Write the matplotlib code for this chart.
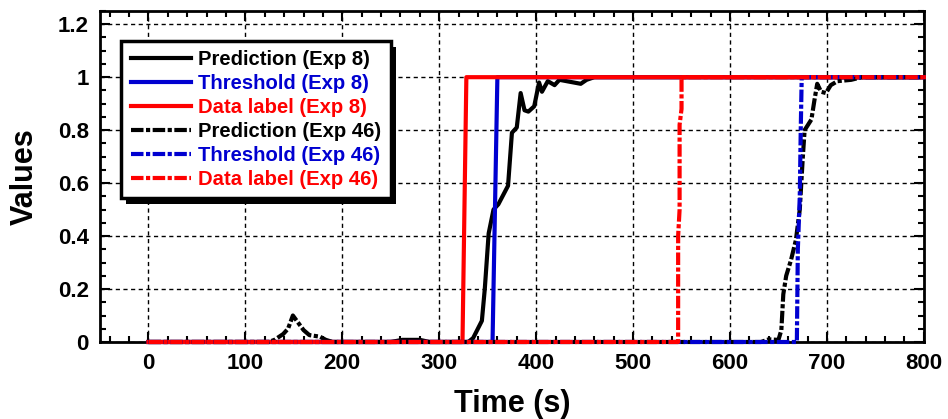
import matplotlib.pyplot as plt
from matplotlib.ticker import MultipleLocator
from matplotlib.patches import Rectangle

plt.rcParams['font.family'] = ['Liberation Sans', 'DejaVu Sans']
plt.rcParams['font.weight'] = 'bold'

# Exp 8
t_pred8 = [0, 250, 262, 280, 290, 330, 335, 344, 347, 351, 356, 361, 371, 375, 380,
           384, 388, 392, 398, 403, 406, 412, 419, 424, 446, 452, 460, 800]
v_pred8 = [0, 0, 0.008, 0.008, 0, 0, 0.015, 0.08, 0.2, 0.41, 0.5, 0.52, 0.59, 0.79, 0.81,
           0.94, 0.875, 0.87, 0.89, 0.98, 0.945, 0.985, 0.97, 0.99, 0.975, 0.99, 1, 1]
t_thr8 = [0, 355, 360, 800]
v_thr8 = [0, 0, 1, 1]
t_lab8 = [0, 324, 328, 800]
v_lab8 = [0, 0, 1, 1]

# Exp 46
t_pred46 = [0, 124, 130, 139, 144, 149, 153, 160, 166, 177, 183, 190, 632, 640, 650,
            653, 655, 658, 663, 668, 672, 675, 677, 684, 687, 690, 694, 699, 704,
            711, 725, 736, 800]
v_pred46 = [0, 0, 0.008, 0.03, 0.05, 0.1, 0.08, 0.045, 0.026, 0.02, 0.008, 0, 0, 0.01, 0.008,
            0.045, 0.18, 0.25, 0.31, 0.385, 0.5, 0.69, 0.8, 0.84, 0.91, 0.975, 0.945, 0.94, 0.97,
            0.985, 0.99, 1, 1]
t_thr46 = [0, 669, 670, 672, 673, 674, 800]
v_thr46 = [0, 0, 0.35, 0.55, 0.8, 1, 1]
t_lab46 = [0, 546.5, 546.5, 548, 548, 550, 550, 800]
v_lab46 = [0, 0, 0.4, 0.5, 0.82, 0.88, 1, 1]

labels = ['Prediction (Exp 8)', 'Threshold (Exp 8)', 'Data label (Exp 8)',
          'Prediction (Exp 46)', 'Threshold (Exp 46)', 'Data label (Exp 46)']

black = '#000000'
blue = '#0000d0'
red = '#ff0000'
dashdot = (0, (3, 0.6, 1, 0.6))

fig = plt.figure(figsize=(9.48, 4.19), dpi=100)
ax = fig.add_axes([0.1055, 0.1838, 0.869, 0.79])

series = [
    (t_pred8, v_pred8, black, '-'),
    (t_thr8, v_thr8, blue, '-'),
    (t_lab8, v_lab8, red, '-'),
    (t_pred46, v_pred46, black, dashdot),
    (t_thr46, v_thr46, blue, dashdot),
    (t_lab46, v_lab46, red, dashdot),
]
for (t, v, c, ls), lab in zip(series, labels):
    ax.plot(t, v, color=c, linestyle=ls, lw=3, label=lab, clip_on=False, zorder=3)

ax.set_xlim(-50, 800)
ax.set_ylim(0, 1.25)
ax.xaxis.set_major_locator(MultipleLocator(100))
ax.xaxis.set_minor_locator(MultipleLocator(20))
ax.yaxis.set_major_locator(MultipleLocator(0.2))
ax.yaxis.set_minor_locator(MultipleLocator(0.05))
ax.set_yticks([0, 0.2, 0.4, 0.6, 0.8, 1, 1.2])
ax.set_yticklabels(['0', '0.2', '0.4', '0.6', '0.8', '1', '1.2'])
ax.set_xticks(range(0, 801, 100))

ax.tick_params(which='both', direction='in', top=True, right=True, width=1.5,
               labelsize=16, pad=8)
ax.tick_params(which='major', length=7)
ax.tick_params(which='minor', length=4)
for s in ax.spines.values():
    s.set_linewidth(2)

ax.grid(True, which='major', color='black', linestyle=(0, (3, 2.5)), lw=1)
ax.set_axisbelow(True)

ax.set_xlabel('Time (s)', fontsize=22, fontweight='bold', labelpad=11)
ax.set_ylabel('Values', fontsize=22, fontweight='bold', labelpad=13)

leg = ax.legend(loc='upper left', bbox_to_anchor=(0.026, 0.91), fontsize=14.6,
                frameon=True, fancybox=False, handlelength=3.0, handletextpad=0.35,
                labelspacing=0.25, borderpad=0.45, borderaxespad=0)
leg.get_frame().set_edgecolor('black')
leg.get_frame().set_linewidth(2.5)
leg.get_frame().set_alpha(1)
leg.set_zorder(10)
for txt, (_, _, c, _) in zip(leg.get_texts(), series):
    txt.set_color(c)

# drop shadow behind the legend box
fig.canvas.draw()
bb = leg.get_window_extent().transformed(fig.transFigure.inverted())
dx, dy = 5 / 948, 6 / 419
fig.patches.append(Rectangle((bb.x0 + dx, bb.y0 - dy), bb.width, bb.height,
                             transform=fig.transFigure, facecolor='black',
                             edgecolor='none', zorder=1))
ax.set_zorder(2)
ax.patch.set_alpha(0)

fig.savefig('out.png', dpi=100)
